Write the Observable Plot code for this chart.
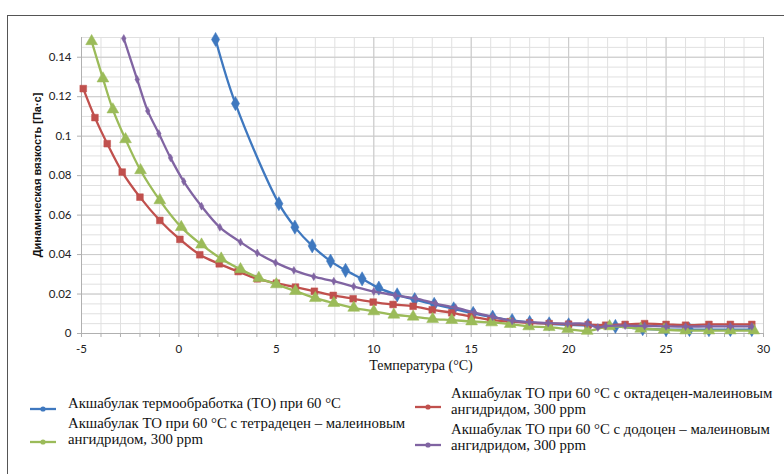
<!DOCTYPE html>
<html>
<head>
<meta charset="utf-8">
<script src="https://cdn.jsdelivr.net/npm/d3@7"></script>
<script src="https://cdn.jsdelivr.net/npm/@observablehq/plot@0.6"></script>
<style>
  html, body { margin: 0; padding: 0; background: #fff; }
  body { width: 784px; height: 474px; overflow: hidden; position: relative; }
  #frame { position: absolute; left: 7px; top: 15px; width: 820px; height: 520px; border-top: 1.5px solid #555; border-left: 1.5px solid #555; }
  #chart { position: absolute; left: 0; top: 0; }
  .ylab { position: absolute; left: 37px; top: 175px; transform: translate(-50%, -50%) rotate(-90deg); font: bold 11px "Liberation Sans", Arial, sans-serif; color: #111; white-space: nowrap; }
  .xlab { position: absolute; left: 421px; top: 366px; transform: translate(-50%, -50%); font: 14px "Liberation Serif", "Times New Roman", serif; color: #111; white-space: nowrap; }
  .leg { position: absolute; font: 14.8px/16px "Liberation Serif", "Times New Roman", serif; color: #111; white-space: nowrap; }
  .sw { position: absolute; }
</style>
</head>
<body>
<div id="frame"></div>
<div id="chart"></div>
<div class="ylab">Динамическая вязкость [Па·с]</div>
<div class="xlab">Температура (°C)</div>
<div id="legend"></div>
<script>
// ---- data ----
const seriesNames = [
  "Акшабулак термообработка (ТО) при 60 °C",
  "Акшабулак ТО при 60 °C с октадецен-малеиновым ангидридом, 300 ppm",
  "Акшабулак ТО при 60 °C с тетрадецен – малеиновым ангидридом, 300 ppm",
  "Акшабулак ТО при 60 °C с додоцен – малеиновым ангидридом, 300 ppm"
];
const seriesColors = ["#3F78BF", "#C0504D", "#9BBB59", "#8064A2"];

const blueX = [1.88, 2.9, 5.13, 5.95, 6.84, 7.78, 8.55, 9.4, 10.26, 11.2, 12.1, 13.1, 14.1, 15.1, 16.1, 17.1, 18.0, 19.0, 20.0, 21.0, 22.4, 23.8, 25.0, 26.2, 27.2, 28.3, 29.4];
const blueY = [0.149, 0.1165, 0.0658, 0.0539, 0.0444, 0.0367, 0.032, 0.0277, 0.023, 0.0196, 0.0172, 0.0148, 0.0125, 0.0102, 0.0083, 0.0066, 0.0056, 0.0049, 0.0044, 0.004, 0.0036, 0.0024, 0.002, 0.002, 0.0019, 0.002, 0.002];

const redX = [-4.91, -4.31, -3.68, -2.91, -2.0, -0.98, 0.05, 1.07, 2.07, 3.04, 4.02, 5.0, 5.98, 6.95, 7.92, 8.94, 9.97, 10.99, 12.02, 13.0, 14.0, 15.0, 16.0, 17.0, 18.0, 19.0, 20.0, 21.0, 21.9, 22.9, 23.9, 25.0, 26.0, 27.2, 28.3, 29.4];
const redY = [0.1241, 0.1094, 0.0962, 0.0818, 0.0691, 0.0573, 0.0477, 0.0399, 0.0353, 0.0314, 0.0277, 0.0255, 0.0235, 0.0214, 0.0193, 0.0176, 0.0159, 0.0147, 0.0138, 0.012, 0.0105, 0.0086, 0.0069, 0.006, 0.0054, 0.005, 0.0047, 0.0044, 0.0042, 0.0046, 0.005, 0.0046, 0.0042, 0.0046, 0.0046, 0.0046];

const greenX = [-4.48, -3.9, -3.39, -2.74, -1.97, -0.98, 0.12, 1.16, 2.17, 3.16, 4.1, 5.0, 5.98, 7.0, 7.95, 8.97, 10.0, 11.03, 12.02, 13.02, 14.0, 15.02, 16.05, 17.0, 17.95, 19.0, 19.95, 20.95, 22.1, 23.7, 24.9, 26.0, 27.2, 28.3, 29.5];
const greenY = [0.1481, 0.1292, 0.1135, 0.0984, 0.0827, 0.0675, 0.0539, 0.045, 0.0379, 0.0325, 0.0281, 0.0249, 0.0215, 0.0179, 0.0154, 0.013, 0.0112, 0.0095, 0.0085, 0.0073, 0.0068, 0.0061, 0.0056, 0.0048, 0.0036, 0.0032, 0.0022, 0.0013, 0.0036, 0.0024, 0.0019, 0.0015, 0.0015, 0.0015, 0.0015];

const purpleX = [-2.83, -2.14, -1.6, -1.03, -0.43, 0.25, 1.16, 2.1, 3.16, 4.02, 4.96, 5.9, 6.92, 7.95, 8.97, 10.0, 11.1, 12.14, 13.17, 14.2, 15.17, 16.1, 17.1, 17.98, 18.95, 19.95, 20.95, 21.5, 21.9, 22.9, 23.9, 25.0, 26.0, 27.2, 28.3, 29.4];
const purpleY = [0.1495, 0.1287, 0.1128, 0.1013, 0.089, 0.077, 0.0645, 0.0538, 0.0463, 0.0408, 0.0359, 0.032, 0.0288, 0.0265, 0.0238, 0.0213, 0.0193, 0.0178, 0.0152, 0.0131, 0.0106, 0.0085, 0.0064, 0.0058, 0.0053, 0.005, 0.0049, 0.003, 0.0038, 0.004, 0.0038, 0.0036, 0.0035, 0.0036, 0.0036, 0.0036];

const xTicks = [-5, 0, 5, 10, 15, 20, 25, 30];
const yTicks = [0, 0.02, 0.04, 0.06, 0.08, 0.1, 0.12, 0.14];

// ---- build table ----
const xs = [blueX, redX, greenX, purpleX];
const ys = [blueY, redY, greenY, purpleY];
const symbols = ["diamond", "square", "triangle", "diamond"];
const sizes = [4.3, 3.8, 4.4, 2.4];
const rows = seriesNames.map((name, i) => xs[i].map((x, j) => ({series: name, x, y: ys[i][j]})));

const marks = [
  Plot.gridX({interval: 1, stroke: "#e0e0e0", strokeOpacity: 1}),
  Plot.gridY({interval: 0.005, stroke: "#e0e0e0", strokeOpacity: 1}),
  Plot.gridX({ticks: xTicks, stroke: "#cacaca", strokeOpacity: 1}),
  Plot.gridY({ticks: yTicks, stroke: "#cacaca", strokeOpacity: 1}),
  Plot.ruleX([-5], {stroke: "#b0b0b0"}),
  Plot.ruleY([0], {stroke: "#b0b0b0"}),
  Plot.axisX({interval: 1, tickSize: 4, tickFormat: () => "", stroke: "#b0b0b0", label: null}),
  Plot.axisX({ticks: xTicks, tickSize: 0, tickPadding: 11, label: null, tickFormat: d => String(d),
    fontSize: 11.5, fontFamily: "Lato, 'Liberation Sans', sans-serif", fill: "#222"}),
  Plot.axisY({ticks: yTicks, tickSize: 4, tickPadding: 6, label: null, stroke: "#b0b0b0",
    tickFormat: d => String(+d.toFixed(3)), fontSize: 11.5, fontFamily: "Lato, 'Liberation Sans', sans-serif", fill: "#222"})
];
rows.forEach((r, i) => {
  marks.push(Plot.line(r, {x: "x", y: "y", stroke: seriesColors[i], strokeWidth: 2.3, curve: "catmull-rom"}));
  marks.push(Plot.dot(r, {x: "x", y: "y", fill: seriesColors[i], stroke: seriesColors[i], strokeWidth: 0.5, symbol: symbols[i], r: sizes[i]}));
});

const chart = Plot.plot({
  width: 784,
  height: 360,
  marginLeft: 81,
  marginRight: 21,
  marginTop: 37,
  marginBottom: 27,
  style: {background: "transparent", overflow: "visible"},
  x: {domain: [-5, 30]},
  y: {domain: [0, 0.15]},
  marks
});
document.getElementById("chart").appendChild(chart);

// ---- legend ----
const legendItems = [
  {i: 0, sx: 30, sy: 403, lines: ["Акшабулак термообработка (ТО) при 60 °C"], tx: 68, ty: 395},
  {i: 2, sx: 30, sy: 436, lines: ["Акшабулак ТО при 60 °C с тетрадецен – малеиновым", "ангидридом, 300 ppm"], tx: 68, ty: 415},
  {i: 1, sx: 415, sy: 401, lines: ["Акшабулак ТО при 60 °C с октадецен-малеиновым", "ангидридом, 300 ppm"], tx: 451, ty: 385},
  {i: 3, sx: 415, sy: 439, lines: ["Акшабулак ТО при 60 °C с додоцен – малеиновым", "ангидридом, 300 ppm"], tx: 451, ty: 421}
];
const leg = document.getElementById("legend");
legendItems.forEach(it => {
  const c = seriesColors[it.i];
  const sw = document.createElement("div");
  sw.className = "sw";
  sw.style.left = it.sx + "px";
  sw.style.top = (it.sy - 4) + "px";
  sw.innerHTML = `<svg width="26" height="8"><line x1="0" y1="4" x2="26" y2="4" stroke="${c}" stroke-width="2.3"/><circle cx="13" cy="4" r="2.6" fill="${c}"/></svg>`;
  leg.appendChild(sw);
  const t = document.createElement("div");
  t.className = "leg";
  t.style.left = it.tx + "px";
  t.style.top = it.ty + "px";
  t.innerHTML = it.lines.join("<br>");
  leg.appendChild(t);
});
</script>
</body>
</html>
